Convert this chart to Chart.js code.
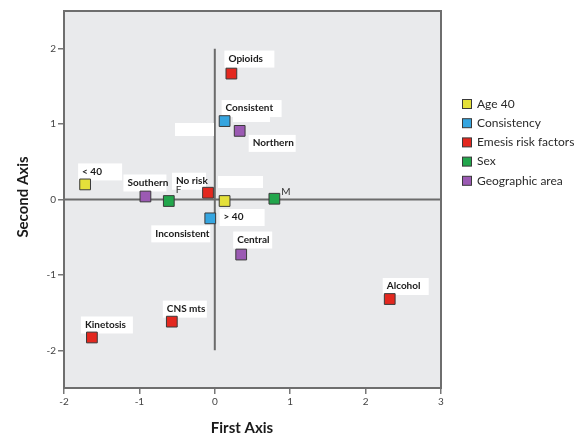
<!DOCTYPE html>
<html>
<head>
<meta charset="utf-8">
<script src="https://cdn.jsdelivr.net/npm/chart.js@4"></script>
<style>
  html, body { margin: 0; padding: 0; background: #ffffff; }
  #wrap { width: 584px; height: 440px; position: relative; }
</style>
</head>
<body>
<div id="wrap"><canvas id="c" width="584" height="440"></canvas></div>
<script>
// ---- Data ----
const groupNames = ['Age 40', 'Consistency', 'Emesis risk factors', 'Sex', 'Geographic area'];

const ageLabels = ['< 40', '> 40'];
const ageX = [-1.72, 0.13];
const ageY = [0.20, -0.02];

const consistencyLabels = ['Consistent', 'Inconsistent'];
const consistencyX = [0.13, -0.06];
const consistencyY = [1.04, -0.25];

const emesisLabels = ['Opioids', 'No risk', 'Alcohol', 'CNS mts', 'Kinetosis'];
const emesisX = [0.22, -0.09, 2.32, -0.57, -1.63];
const emesisY = [1.67, 0.09, -1.32, -1.62, -1.83];

const sexLabels = ['F', 'M'];
const sexX = [-0.61, 0.79];
const sexY = [-0.02, 0.01];

const geoLabels = ['Northern', 'Southern', 'Central'];
const geoX = [0.33, -0.92, 0.35];
const geoY = [0.91, 0.04, -0.73];

const xTickValues = [-2, -1, 0, 1, 2, 3];
const yTickValues = [-2, -1, 0, 1, 2];

// ---- Styling / placement (not data) ----
const groupColors = ['#e4e03a', '#35a5e0', '#e3281f', '#22a64c', '#9b5ab3'];
// label offsets in pixels relative to point centre: [dx, dy, bold, boxWidth]
const labelPlacement = {
  '< 40':        [-3, -13, true, 44],
  '> 40':        [-1, 16, true, 45],
  'Consistent':  [1, -13, true, 60],
  'Inconsistent':[-55, 15, true, 59],
  'Opioids':     [-3, -15, true, 50],
  'No risk':     [-32, -12, true, 34],
  'Alcohol':     [-3, -13, true, 46],
  'CNS mts':     [-5, -13, true, 44],
  'Kinetosis':   [-7, -13, true, 52],
  'F':           [7, -11, false, 0],
  'M':           [7, -7, false, 0],
  'Northern':    [13, 12, true, 47],
  'Southern':    [-18, -14, true, 43],
  'Central':     [-4, -15, true, 39]
};
// stray empty label boxes seen in the reference (pixel rects)
const emptyBoxes = [[175, 123, 39, 13], [218, 176, 45, 12], [233, 113, 37, 9]];

function pts(xs, ys, ls) { return xs.map((x, i) => ({ x: x, y: ys[i], label: ls[i] })); }

const groups = [
  pts(ageX, ageY, ageLabels),
  pts(consistencyX, consistencyY, consistencyLabels),
  pts(emesisX, emesisY, emesisLabels),
  pts(sexX, sexY, sexLabels),
  pts(geoX, geoY, geoLabels)
];

const datasets = groups.map((d, i) => ({
  label: groupNames[i],
  data: d,
  pointStyle: 'rect',
  pointRadius: 7.6,
  pointHoverRadius: 7.6,
  backgroundColor: groupColors[i],
  borderColor: '#3a3a3a',
  borderWidth: 1
}));

const FONT = 'Lato, "Open Sans", sans-serif';

const decor = {
  id: 'decor',
  beforeDraw(chart) {
    const { ctx, chartArea: a } = chart;
    ctx.save();
    ctx.fillStyle = '#e9eaec';
    ctx.fillRect(a.left, a.top, a.right - a.left, a.bottom - a.top);
    ctx.restore();
  },
  beforeDatasetsDraw(chart) {
    const { ctx, chartArea: a, scales } = chart;
    const xs = scales.x, ys = scales.y;
    ctx.save();
    // reference lines
    ctx.strokeStyle = '#6b6b6b';
    ctx.lineWidth = 2;
    ctx.beginPath();
    const y0 = ys.getPixelForValue(0);
    ctx.moveTo(a.left, y0); ctx.lineTo(a.right, y0);
    const x0 = xs.getPixelForValue(0);
    ctx.moveTo(x0, ys.getPixelForValue(2)); ctx.lineTo(x0, ys.getPixelForValue(-2));
    ctx.stroke();
    // frame
    ctx.strokeStyle = '#6e6e6e';
    ctx.lineWidth = 2;
    ctx.strokeRect(a.left, a.top, a.right - a.left, a.bottom - a.top);
    // empty boxes
    ctx.fillStyle = '#ffffff';
    emptyBoxes.forEach(b => ctx.fillRect(b[0], b[1], b[2], b[3]));
    // point labels
    ctx.textBaseline = 'middle';
    chart.data.datasets.forEach((ds, di) => {
      const meta = chart.getDatasetMeta(di);
      ds.data.forEach((p, pi) => {
        const el = meta.data[pi];
        const pl = labelPlacement[p.label] || [6, -12, true, 0];
        const tx = el.x + pl[0], ty = el.y + pl[1];
        ctx.font = (pl[2] ? 'bold ' : '') + '10px ' + FONT;
        if (pl[3] > 0) {
          ctx.fillStyle = '#ffffff';
          ctx.fillRect(tx - 4, ty - 8, pl[3], 17);
        }
        ctx.fillStyle = pl[2] ? '#1a1a1a' : '#333333';
        ctx.fillText(p.label, tx, ty);
      });
    });
    ctx.restore();
  },
  afterDraw(chart) {
    const { ctx } = chart;
    ctx.save();
    // axis titles
    ctx.fillStyle = '#1a1a1a';
    ctx.font = 'bold 15px ' + FONT;
    ctx.textAlign = 'center';
    ctx.textBaseline = 'middle';
    ctx.fillText('First Axis', 242, 428);
    ctx.translate(23, 197);
    ctx.rotate(-Math.PI / 2);
    ctx.fillText('Second Axis', 0, 0);
    ctx.restore();
    // legend
    ctx.save();
    ctx.font = '12px ' + FONT;
    ctx.textBaseline = 'middle';
    ctx.textAlign = 'left';
    chart.data.datasets.forEach((ds, i) => {
      const cy = 104 + i * 19.2;
      ctx.fillStyle = ds.backgroundColor;
      ctx.fillRect(462, cy - 4.5, 9, 9);
      ctx.strokeStyle = '#3a3a3a';
      ctx.lineWidth = 1;
      ctx.strokeRect(462.5, cy - 4.5, 9, 9);
      ctx.fillStyle = '#2a2a2a';
      ctx.fillText(ds.label, 477, cy);
    });
    ctx.restore();
  }
};

new Chart(document.getElementById('c'), {
  type: 'scatter',
  data: { datasets: datasets },
  options: {
    responsive: false,
    animation: false,
    devicePixelRatio: 1,
    layout: { padding: { top: 11, right: 143, left: 0, bottom: 0 } },
    plugins: { legend: { display: false }, tooltip: { enabled: false } },
    scales: {
      x: {
        type: 'linear', min: -2, max: 3,
        afterBuildTicks: s => { s.ticks = xTickValues.map(v => ({ value: v })); },
        afterFit: s => { s.height = 52; },
        ticks: { font: { size: 10, family: FONT }, color: '#444', padding: 2, callback: v => String(v) },
        grid: { drawOnChartArea: false, drawTicks: true, tickLength: 6, color: '#777', lineWidth: 1.5 },
        border: { display: true, color: '#6e6e6e', width: 2 }
      },
      y: {
        type: 'linear', min: -2.5, max: 2.5,
        afterBuildTicks: s => { s.ticks = yTickValues.map(v => ({ value: v })); },
        afterFit: s => { s.width = 64; },
        ticks: { font: { size: 10, family: FONT }, color: '#444', padding: 2, callback: v => String(v) },
        grid: { drawOnChartArea: false, drawTicks: true, tickLength: 6, color: '#777', lineWidth: 1.5 },
        border: { display: true, color: '#6e6e6e', width: 2 }
      }
    }
  },
  plugins: [decor]
});
</script>
</body>
</html>
